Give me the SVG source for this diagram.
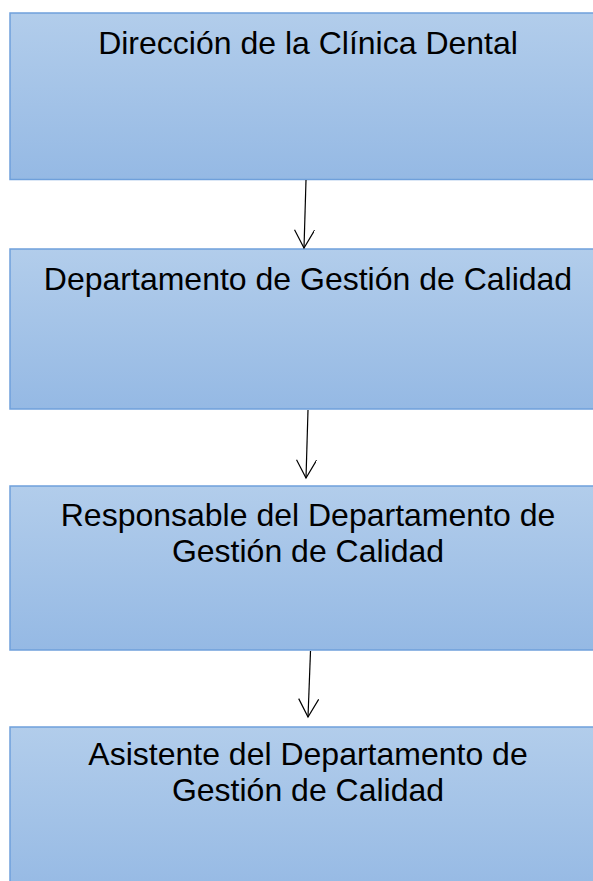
<svg xmlns="http://www.w3.org/2000/svg" width="593" height="881" viewBox="0 0 593 881">
<defs>
<linearGradient id="g" x1="0" y1="0" x2="0" y2="1">
<stop offset="0" stop-color="#b2cdeb"/>
<stop offset="1" stop-color="#95b9e4"/>
</linearGradient>
<marker id="ah" markerWidth="24" markerHeight="24" refX="20" refY="10" orient="auto" markerUnits="userSpaceOnUse">
<path d="M2,0 L20,10 L2,20" fill="none" stroke="#000" stroke-width="1.2"/>
</marker>
</defs>
<style>
.box{fill:url(#g);stroke:#6fa0db;stroke-width:1.5}
.t{font-family:"Liberation Sans",Arial,sans-serif;font-size:32px;fill:#000;text-anchor:middle}
.c{stroke:#000;stroke-width:1.2;fill:none;marker-end:url(#ah)}
</style>
<rect width="593" height="881" fill="#fff"/>
<g id="n1"><rect class="box" x="10" y="13" width="590" height="166.5"/><text class="t" x="308" y="54">Dirección de la Clínica Dental</text></g>
<g id="n2"><rect class="box" x="10" y="249" width="590" height="160"/><text class="t" x="308" y="290">Departamento de Gestión de Calidad</text></g>
<g id="n3"><rect class="box" x="10" y="486" width="590" height="164"/><text class="t" x="308" y="526">Responsable del Departamento de</text><text class="t" x="308" y="561.5">Gestión de Calidad</text></g>
<g id="n4"><rect class="box" x="10" y="727" width="590" height="170"/><text class="t" x="308" y="765">Asistente del Departamento de</text><text class="t" x="308" y="800.5">Gestión de Calidad</text></g>
<g id="connectors">
<path class="c" d="M306,180 L304,248"/>
<path class="c" d="M308,410 L306,478"/>
<path class="c" d="M310.5,651 L308,717"/>
</g>
</svg>
